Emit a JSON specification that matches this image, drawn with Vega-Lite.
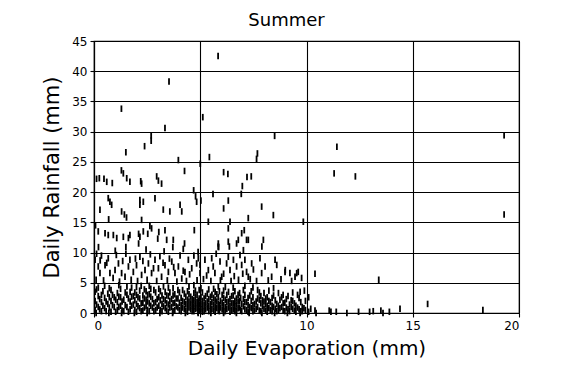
{
  "$schema": "https://vega.github.io/schema/vega-lite/v6.json",
  "width": 425,
  "height": 272,
  "autosize": {"type": "none"},
  "padding": {"left": 94, "top": 41, "right": 55, "bottom": 68},
  "background": "white",
  "title": {"text": "Summer", "anchor": "middle", "frame": "group", "dx": -20, "offset": 5, "fontSize": 18, "fontWeight": "normal", "font": "DejaVu Sans", "color": "black"},
  "config": {
    "font": "DejaVu Sans",
    "view": {"stroke": "black", "strokeWidth": 1.2},
    "axis": {
      "domainColor": "black", "domainWidth": 1.2,
      "grid": true, "gridColor": "black", "gridOpacity": 1, "gridWidth": 1.1,
      "tickColor": "black", "tickSize": 4, "tickWidth": 1.1,
      "labelColor": "black", "labelFontSize": 12, "labelPadding": 3,
      "titleColor": "black", "titleFontWeight": "normal"
    }
  },
  "data": {"values": [
    {"evap":5.84,"rain":42.5},{"evap":3.53,"rain":38.3},{"evap":1.29,"rain":33.8},{"evap":5.12,"rain":32.4},{"evap":3.34,"rain":30.6},
    {"evap":2.69,"rain":29.4},{"evap":2.69,"rain":28.5},{"evap":2.38,"rain":27.6},{"evap":1.5,"rain":26.6},{"evap":8.5,"rain":29.3},
    {"evap":19.3,"rain":29.4},{"evap":11.43,"rain":27.5},{"evap":3.97,"rain":25.3},{"evap":5.43,"rain":25.8},{"evap":5.0,"rain":24.7},
    {"evap":7.69,"rain":26.4},{"evap":7.65,"rain":25.5},{"evap":4.26,"rain":23.5},{"evap":1.29,"rain":23.6},{"evap":6.1,"rain":23.3},
    {"evap":6.3,"rain":23.0},{"evap":7.2,"rain":22.5},{"evap":7.4,"rain":22.6},{"evap":11.3,"rain":23.1},{"evap":12.3,"rain":22.6},
    {"evap":0.12,"rain":22.2},{"evap":0.25,"rain":22.3},{"evap":0.47,"rain":22.2},{"evap":0.6,"rain":21.7},{"evap":0.86,"rain":21.5},
    {"evap":1.38,"rain":23.1},{"evap":1.54,"rain":22.3},{"evap":1.69,"rain":21.7},{"evap":2.2,"rain":21.8},{"evap":2.24,"rain":21.4},
    {"evap":2.95,"rain":22.6},{"evap":3.03,"rain":21.9},{"evap":3.18,"rain":21.4},{"evap":4.69,"rain":20.3},{"evap":4.78,"rain":19.3},
    {"evap":5.03,"rain":18.6},{"evap":5.6,"rain":19.7},{"evap":6.98,"rain":21.0},{"evap":6.93,"rain":19.7},
    {"evap":0.28,"rain":17.1},{"evap":0.67,"rain":19.0},{"evap":0.75,"rain":18.4},{"evap":0.83,"rain":17.9},{"evap":1.3,"rain":16.8},
    {"evap":1.43,"rain":16.3},{"evap":1.53,"rain":15.8},{"evap":2.16,"rain":18.7},{"evap":2.16,"rain":17.9},{"evap":2.32,"rain":18.4},
    {"evap":2.87,"rain":19.0},{"evap":3.26,"rain":17.1},{"evap":3.57,"rain":16.8},{"evap":4.05,"rain":17.9},{"evap":4.13,"rain":16.8},
    {"evap":4.83,"rain":18.4},{"evap":6.1,"rain":17.3},{"evap":6.32,"rain":18.6},{"evap":7.89,"rain":17.6},{"evap":8.44,"rain":16.2},
    {"evap":7.26,"rain":15.7},{"evap":5.38,"rain":15.1},{"evap":6.4,"rain":15.1},{"evap":9.85,"rain":15.1},{"evap":19.3,"rain":16.3},
    {"evap":0.69,"rain":15.5},{"evap":2.24,"rain":15.4},{"evap":0.07,"rain":14.5},
    {"evap":0.2,"rain":13.5},{"evap":0.52,"rain":13.2},{"evap":0.67,"rain":12.9},{"evap":0.91,"rain":12.9},{"evap":1.07,"rain":12.4},
    {"evap":1.38,"rain":12.6},{"evap":1.5,"rain":10.9},{"evap":1.62,"rain":12.4},{"evap":1.69,"rain":12.9},{"evap":2.1,"rain":13.1},
    {"evap":2.1,"rain":11.5},{"evap":2.16,"rain":12.6},{"evap":2.32,"rain":13.5},{"evap":2.63,"rain":14.4},{"evap":2.71,"rain":14.0},
    {"evap":2.53,"rain":13.1},{"evap":3.05,"rain":13.4},{"evap":3.0,"rain":12.3},{"evap":3.34,"rain":13.7},{"evap":3.42,"rain":12.1},
    {"evap":3.73,"rain":12.1},{"evap":3.71,"rain":10.9},{"evap":4.26,"rain":11.5},{"evap":4.72,"rain":13.7},{"evap":6.32,"rain":14.0},
    {"evap":6.95,"rain":13.2},{"evap":6.79,"rain":12.1},{"evap":7.18,"rain":12.1},{"evap":7.97,"rain":12.1},{"evap":5.85,"rain":11.5},
    {"evap":6.32,"rain":11.8},{"evap":7.07,"rain":13.7},{"evap":7.9,"rain":11.0},{"evap":5.86,"rain":10.9},{"evap":0.21,"rain":10.9},
    {"evap":0.12,"rain":9.8},{"evap":0.29,"rain":8.7},{"evap":6.37,"rain":11.0},{"evap":6.71,"rain":11.5},{"evap":7.26,"rain":12.1},
    {"evap":1.0,"rain":10.3},{"evap":2.45,"rain":10.5},{"evap":3.3,"rain":10.2},{"evap":4.2,"rain":10.6},{"evap":4.9,"rain":10.1},
    {"evap":0.05,"rain":8.8},{"evap":0.2,"rain":7.7},{"evap":0.28,"rain":6.6},{"evap":0.52,"rain":7.9},{"evap":0.67,"rain":9.05},
    {"evap":0.75,"rain":6.6},{"evap":0.99,"rain":7.1},{"evap":1.15,"rain":8.2},{"evap":1.3,"rain":6.6},{"evap":1.46,"rain":6.0},
    {"evap":1.62,"rain":7.7},{"evap":1.69,"rain":8.8},{"evap":1.85,"rain":6.8},{"evap":2.0,"rain":7.9},{"evap":2.16,"rain":9.3},
    {"evap":2.24,"rain":6.3},{"evap":2.4,"rain":7.1},{"evap":2.56,"rain":8.2},{"evap":2.71,"rain":6.6},{"evap":2.87,"rain":8.8},
    {"evap":3.03,"rain":7.4},{"evap":3.18,"rain":6.0},{"evap":3.34,"rain":7.9},{"evap":3.5,"rain":6.8},{"evap":3.66,"rain":8.5},
    {"evap":3.81,"rain":6.6},{"evap":3.97,"rain":7.7},{"evap":4.13,"rain":5.7},{"evap":4.28,"rain":6.8},{"evap":4.44,"rain":8.8},
    {"evap":4.6,"rain":7.4},{"evap":4.83,"rain":8.2},{"evap":4.99,"rain":6.6},
    {"evap":4.91,"rain":9.05},{"evap":4.99,"rain":7.95},{"evap":5.22,"rain":8.8},{"evap":5.38,"rain":7.1},{"evap":5.54,"rain":9.05},
    {"evap":5.61,"rain":7.7},{"evap":5.69,"rain":6.6},{"evap":5.93,"rain":8.5},{"evap":6.01,"rain":6.0},{"evap":6.24,"rain":8.2},
    {"evap":6.32,"rain":9.3},{"evap":6.4,"rain":7.1},{"evap":6.56,"rain":8.8},{"evap":6.71,"rain":7.7},{"evap":6.87,"rain":9.6},
    {"evap":6.95,"rain":7.95},{"evap":7.03,"rain":10.4},{"evap":7.1,"rain":8.8},{"evap":7.18,"rain":6.8},{"evap":7.26,"rain":6.0},
    {"evap":7.42,"rain":8.2},{"evap":7.81,"rain":9.05},{"evap":7.89,"rain":6.6},{"evap":8.05,"rain":7.7},{"evap":8.36,"rain":6.0},
    {"evap":8.52,"rain":8.8},{"evap":8.6,"rain":7.95},{"evap":8.99,"rain":6.8},{"evap":9.22,"rain":6.6},{"evap":9.46,"rain":6.0},
    {"evap":9.61,"rain":6.8},{"evap":9.77,"rain":5.8},{"evap":9.0,"rain":7.1},{"evap":9.54,"rain":6.6},{"evap":5.85,"rain":11.0},
    {"evap":0.1,"rain":5.5},{"evap":0.35,"rain":9.5},{"evap":0.45,"rain":5.4},{"evap":0.6,"rain":8.3},{"evap":0.9,"rain":5.8},
    {"evap":1.05,"rain":9.6},{"evap":1.2,"rain":5.2},{"evap":1.35,"rain":8.6},{"evap":1.5,"rain":9.8},{"evap":1.75,"rain":5.5},
    {"evap":1.95,"rain":9.0},{"evap":2.05,"rain":5.3},{"evap":2.3,"rain":8.6},{"evap":2.5,"rain":5.5},{"evap":2.65,"rain":9.7},
    {"evap":2.8,"rain":7.4},{"evap":2.95,"rain":5.3},{"evap":3.1,"rain":9.4},{"evap":3.25,"rain":8.3},{"evap":3.45,"rain":5.4},
    {"evap":3.55,"rain":9.0},{"evap":3.75,"rain":7.6},{"evap":3.9,"rain":5.2},{"evap":4.05,"rain":9.5},{"evap":4.2,"rain":7.0},
    {"evap":4.35,"rain":5.3},{"evap":4.5,"rain":6.4},{"evap":4.7,"rain":9.5},{"evap":4.85,"rain":5.4},{"evap":5.15,"rain":5.6},
    {"evap":5.3,"rain":6.2},{"evap":5.5,"rain":5.3},{"evap":5.75,"rain":9.8},{"evap":5.95,"rain":5.4},{"evap":6.1,"rain":6.5},
    {"evap":6.45,"rain":5.3},{"evap":6.6,"rain":6.1},{"evap":6.8,"rain":5.5},{"evap":7.0,"rain":6.5},{"evap":7.35,"rain":5.6},
    {"evap":7.5,"rain":7.2},{"evap":7.65,"rain":5.3},{"evap":8.2,"rain":5.4},{"evap":8.8,"rain":5.6},{"evap":9.3,"rain":5.3},
    {"evap":10.1,"rain":0.2},{"evap":10.2,"rain":0.7},{"evap":10.4,"rain":0.4},{"evap":10.45,"rain":0.0},{"evap":11.07,"rain":0.4},
    {"evap":11.15,"rain":0.2},{"evap":11.4,"rain":0.2},{"evap":11.9,"rain":0.0},{"evap":12.45,"rain":0.2},{"evap":12.97,"rain":0.2},
    {"evap":13.14,"rain":0.3},{"evap":13.5,"rain":0.4},{"evap":13.6,"rain":0.0},{"evap":13.9,"rain":0.2},{"evap":14.4,"rain":0.7},
    {"evap":10.1,"rain":2.6},{"evap":10.4,"rain":6.5},{"evap":13.4,"rain":5.5},{"evap":15.7,"rain":1.5},{"evap":18.3,"rain":0.5},
    {"evap":9.9,"rain":3.7},{"evap":9.7,"rain":3.5},
    {"evap":0.05,"rain":0.5},{"evap":0.05,"rain":2.0},{"evap":0.05,"rain":3.5},{"evap":0.2,"rain":1.0},{"evap":0.2,"rain":2.8},{"evap":0.2,"rain":4.2},
    {"evap":0.35,"rain":0.3},{"evap":0.35,"rain":1.8},{"evap":0.35,"rain":3.0},{"evap":0.5,"rain":0.8},{"evap":0.5,"rain":2.5},{"evap":0.5,"rain":4.5},
    {"evap":0.65,"rain":1.5},{"evap":0.65,"rain":3.2},{"evap":0.8,"rain":0.2},{"evap":0.8,"rain":2.0},{"evap":0.8,"rain":3.8},{"evap":0.95,"rain":1.0},{"evap":0.95,"rain":2.6},
    {"evap":1.1,"rain":0.5},{"evap":1.1,"rain":1.8},{"evap":1.1,"rain":3.3},{"evap":1.25,"rain":1.2},{"evap":1.25,"rain":2.6},{"evap":1.25,"rain":4.0},
    {"evap":1.4,"rain":0.3},{"evap":1.4,"rain":2.2},{"evap":1.55,"rain":1.0},{"evap":1.55,"rain":3.0},{"evap":1.55,"rain":4.4},
    {"evap":1.7,"rain":0.6},{"evap":1.7,"rain":1.9},{"evap":1.7,"rain":3.5},{"evap":1.85,"rain":1.4},{"evap":1.85,"rain":2.8},
    {"evap":2.0,"rain":0.2},{"evap":2.0,"rain":1.5},{"evap":2.0,"rain":3.0},{"evap":2.0,"rain":4.3},{"evap":2.15,"rain":0.8},{"evap":2.15,"rain":2.4},{"evap":2.15,"rain":3.7},
    {"evap":2.3,"rain":0.4},{"evap":2.3,"rain":1.7},{"evap":2.3,"rain":2.9},{"evap":2.45,"rain":1.1},{"evap":2.45,"rain":2.2},{"evap":2.45,"rain":3.6},
    {"evap":2.6,"rain":0.3},{"evap":2.6,"rain":1.6},{"evap":2.6,"rain":3.1},{"evap":2.6,"rain":4.5},{"evap":2.75,"rain":0.9},{"evap":2.75,"rain":2.3},
    {"evap":2.9,"rain":0.5},{"evap":2.9,"rain":1.8},{"evap":2.9,"rain":3.4},
    {"evap":3.05,"rain":1.2},{"evap":3.05,"rain":2.6},{"evap":3.05,"rain":4.0},{"evap":3.2,"rain":0.3},{"evap":3.2,"rain":1.5},{"evap":3.2,"rain":2.9},
    {"evap":3.35,"rain":0.8},{"evap":3.35,"rain":2.1},{"evap":3.35,"rain":3.5},{"evap":3.5,"rain":0.2},{"evap":3.5,"rain":1.4},{"evap":3.5,"rain":2.8},{"evap":3.5,"rain":4.2},
    {"evap":3.65,"rain":1.0},{"evap":3.65,"rain":2.3},{"evap":3.8,"rain":0.5},{"evap":3.8,"rain":1.7},{"evap":3.8,"rain":3.1},{"evap":3.95,"rain":0.9},{"evap":3.95,"rain":2.4},{"evap":3.95,"rain":3.8},
    {"evap":4.1,"rain":0.3},{"evap":4.1,"rain":1.3},{"evap":4.1,"rain":2.5},{"evap":4.25,"rain":0.7},{"evap":4.25,"rain":1.8},{"evap":4.25,"rain":3.2},
    {"evap":4.4,"rain":0.2},{"evap":4.4,"rain":1.2},{"evap":4.4,"rain":2.2},{"evap":4.4,"rain":3.6},{"evap":4.55,"rain":0.6},{"evap":4.55,"rain":1.6},{"evap":4.55,"rain":2.7},
    {"evap":4.7,"rain":0.3},{"evap":4.7,"rain":1.1},{"evap":4.7,"rain":2.1},{"evap":4.7,"rain":3.3},{"evap":4.7,"rain":4.6},{"evap":4.85,"rain":0.8},{"evap":4.85,"rain":1.8},{"evap":4.85,"rain":3.0},
    {"evap":4.95,"rain":0.4},{"evap":4.95,"rain":1.4},{"evap":4.95,"rain":2.4},{"evap":4.95,"rain":3.8},
    {"evap":5.1,"rain":0.2},{"evap":5.1,"rain":1.0},{"evap":5.1,"rain":2.0},{"evap":5.1,"rain":3.4},{"evap":5.25,"rain":0.6},{"evap":5.25,"rain":1.6},{"evap":5.25,"rain":2.8},
    {"evap":5.4,"rain":0.3},{"evap":5.4,"rain":1.2},{"evap":5.4,"rain":2.3},{"evap":5.4,"rain":3.9},{"evap":5.55,"rain":0.7},{"evap":5.55,"rain":1.8},{"evap":5.55,"rain":3.0},
    {"evap":5.7,"rain":0.2},{"evap":5.7,"rain":1.1},{"evap":5.7,"rain":2.2},{"evap":5.7,"rain":3.5},{"evap":5.85,"rain":0.5},{"evap":5.85,"rain":1.5},{"evap":5.85,"rain":2.6},{"evap":5.85,"rain":4.4},
    {"evap":5.95,"rain":0.9},{"evap":5.95,"rain":2.0},
    {"evap":6.1,"rain":0.3},{"evap":6.1,"rain":1.3},{"evap":6.1,"rain":2.5},{"evap":6.1,"rain":3.7},{"evap":6.25,"rain":0.7},{"evap":6.25,"rain":1.8},{"evap":6.25,"rain":3.0},
    {"evap":6.4,"rain":0.2},{"evap":6.4,"rain":1.2},{"evap":6.4,"rain":2.3},{"evap":6.55,"rain":0.6},{"evap":6.55,"rain":1.6},{"evap":6.55,"rain":2.9},{"evap":6.55,"rain":4.2},
    {"evap":6.7,"rain":0.4},{"evap":6.7,"rain":1.4},{"evap":6.7,"rain":2.4},{"evap":6.85,"rain":0.9},{"evap":6.85,"rain":2.0},{"evap":6.85,"rain":3.3},{"evap":6.95,"rain":0.3},{"evap":6.95,"rain":1.5},
    {"evap":7.1,"rain":0.6},{"evap":7.1,"rain":1.8},{"evap":7.1,"rain":3.0},{"evap":7.1,"rain":4.5},{"evap":7.25,"rain":0.2},{"evap":7.25,"rain":1.3},{"evap":7.25,"rain":2.5},
    {"evap":7.4,"rain":0.8},{"evap":7.4,"rain":2.0},{"evap":7.4,"rain":3.6},{"evap":7.55,"rain":0.4},{"evap":7.55,"rain":1.5},{"evap":7.7,"rain":1.0},{"evap":7.7,"rain":2.4},{"evap":7.7,"rain":3.8},
    {"evap":7.85,"rain":0.3},{"evap":7.85,"rain":1.6},{"evap":7.85,"rain":2.8},
    {"evap":8.0,"rain":0.7},{"evap":8.0,"rain":1.9},{"evap":8.0,"rain":3.3},{"evap":8.15,"rain":0.2},{"evap":8.15,"rain":1.2},{"evap":8.15,"rain":2.6},
    {"evap":8.3,"rain":0.5},{"evap":8.3,"rain":1.8},{"evap":8.45,"rain":1.0},{"evap":8.45,"rain":2.9},{"evap":8.45,"rain":4.1},{"evap":8.6,"rain":0.3},{"evap":8.6,"rain":1.5},
    {"evap":8.75,"rain":0.8},{"evap":8.75,"rain":2.2},{"evap":8.9,"rain":0.4},{"evap":8.9,"rain":1.6},{"evap":8.9,"rain":3.0},
    {"evap":9.05,"rain":0.9},{"evap":9.05,"rain":2.3},{"evap":9.2,"rain":0.3},{"evap":9.2,"rain":1.4},{"evap":9.35,"rain":0.7},{"evap":9.35,"rain":2.0},{"evap":9.35,"rain":3.4},
    {"evap":9.5,"rain":0.2},{"evap":9.5,"rain":1.2},{"evap":9.65,"rain":0.6},{"evap":9.65,"rain":2.5},{"evap":9.8,"rain":0.3},{"evap":9.8,"rain":1.0},{"evap":9.95,"rain":0.5},{"evap":9.95,"rain":2.0},
    {"evap":0.12,"rain":1.4},{"evap":0.12,"rain":3.9},{"evap":0.27,"rain":0.6},{"evap":0.27,"rain":2.3},{"evap":0.42,"rain":1.2},{"evap":0.42,"rain":3.6},
    {"evap":0.57,"rain":0.3},{"evap":0.57,"rain":1.9},{"evap":0.72,"rain":0.9},{"evap":0.72,"rain":2.6},{"evap":0.72,"rain":4.1},{"evap":0.87,"rain":1.3},{"evap":0.87,"rain":3.0},
    {"evap":1.02,"rain":0.2},{"evap":1.02,"rain":2.2},{"evap":1.17,"rain":1.0},{"evap":1.17,"rain":2.7},{"evap":1.17,"rain":4.6},{"evap":1.32,"rain":0.4},{"evap":1.32,"rain":1.9},
    {"evap":1.47,"rain":1.3},{"evap":1.47,"rain":3.4},{"evap":1.62,"rain":0.2},{"evap":1.62,"rain":2.4},{"evap":1.77,"rain":1.2},{"evap":1.77,"rain":2.7},{"evap":1.77,"rain":4.2},
    {"evap":1.92,"rain":0.5},{"evap":1.92,"rain":2.1},{"evap":1.92,"rain":3.4},{"evap":2.07,"rain":1.1},{"evap":2.07,"rain":2.6},{"evap":2.22,"rain":0.3},{"evap":2.22,"rain":1.6},{"evap":2.22,"rain":4.5},
    {"evap":2.37,"rain":0.9},{"evap":2.37,"rain":2.4},{"evap":2.37,"rain":3.9},{"evap":2.52,"rain":0.5},{"evap":2.52,"rain":1.9},{"evap":2.52,"rain":3.0},
    {"evap":2.67,"rain":1.2},{"evap":2.67,"rain":2.7},{"evap":2.67,"rain":4.0},{"evap":2.82,"rain":0.3},{"evap":2.82,"rain":1.6},{"evap":2.82,"rain":3.8},{"evap":2.97,"rain":0.9},{"evap":2.97,"rain":2.3},
    {"evap":3.12,"rain":0.5},{"evap":3.12,"rain":2.1},{"evap":3.12,"rain":3.6},{"evap":3.27,"rain":1.1},{"evap":3.27,"rain":2.3},{"evap":3.27,"rain":4.4},
    {"evap":3.42,"rain":0.4},{"evap":3.42,"rain":1.6},{"evap":3.42,"rain":2.9},{"evap":3.57,"rain":0.9},{"evap":3.57,"rain":2.0},{"evap":3.57,"rain":3.4},
    {"evap":3.72,"rain":0.3},{"evap":3.72,"rain":1.6},{"evap":3.72,"rain":2.9},{"evap":3.72,"rain":4.1},{"evap":3.87,"rain":1.1},{"evap":3.87,"rain":2.4},
    {"evap":4.02,"rain":0.5},{"evap":4.02,"rain":1.7},{"evap":4.02,"rain":3.4},{"evap":4.17,"rain":0.9},{"evap":4.17,"rain":2.0},{"evap":4.17,"rain":3.8},
    {"evap":4.32,"rain":0.4},{"evap":4.32,"rain":1.5},{"evap":4.32,"rain":2.7},{"evap":4.47,"rain":0.9},{"evap":4.47,"rain":1.9},{"evap":4.47,"rain":3.1},{"evap":4.47,"rain":4.4},
    {"evap":4.62,"rain":0.3},{"evap":4.62,"rain":1.3},{"evap":4.62,"rain":2.3},{"evap":4.77,"rain":0.7},{"evap":4.77,"rain":1.6},{"evap":4.77,"rain":2.6},{"evap":4.77,"rain":3.7},
    {"evap":4.9,"rain":0.2},{"evap":4.9,"rain":1.1},{"evap":4.9,"rain":2.0},{"evap":5.03,"rain":0.6},{"evap":5.03,"rain":1.5},{"evap":5.03,"rain":2.6},{"evap":5.03,"rain":4.1},
    {"evap":5.18,"rain":0.3},{"evap":5.18,"rain":1.3},{"evap":5.18,"rain":2.4},{"evap":5.33,"rain":0.9},{"evap":5.33,"rain":1.9},{"evap":5.33,"rain":3.2},
    {"evap":5.48,"rain":0.5},{"evap":5.48,"rain":1.5},{"evap":5.48,"rain":2.7},{"evap":5.63,"rain":0.4},{"evap":5.63,"rain":1.4},{"evap":5.63,"rain":2.5},{"evap":5.63,"rain":4.0},
    {"evap":5.78,"rain":0.8},{"evap":5.78,"rain":1.9},{"evap":5.78,"rain":3.1},{"evap":5.9,"rain":0.3},{"evap":5.9,"rain":1.3},{"evap":5.9,"rain":3.6},
    {"evap":6.03,"rain":0.6},{"evap":6.03,"rain":1.7},{"evap":6.03,"rain":3.0},{"evap":6.18,"rain":0.3},{"evap":6.18,"rain":1.0},{"evap":6.18,"rain":2.2},{"evap":6.18,"rain":4.3},
    {"evap":6.33,"rain":0.9},{"evap":6.33,"rain":1.9},{"evap":6.33,"rain":3.5},{"evap":6.48,"rain":0.5},{"evap":6.48,"rain":1.6},{"evap":6.48,"rain":2.8},
    {"evap":6.63,"rain":0.3},{"evap":6.63,"rain":1.1},{"evap":6.63,"rain":2.0},{"evap":6.63,"rain":3.6},{"evap":6.78,"rain":0.8},{"evap":6.78,"rain":1.9},{"evap":6.78,"rain":3.0},
    {"evap":6.9,"rain":0.5},{"evap":6.9,"rain":2.5},{"evap":7.03,"rain":1.1},{"evap":7.03,"rain":2.3},{"evap":7.03,"rain":3.8},{"evap":7.18,"rain":0.5},{"evap":7.18,"rain":1.8},
    {"evap":7.33,"rain":1.0},{"evap":7.33,"rain":2.9},{"evap":7.48,"rain":0.3},{"evap":7.48,"rain":1.3},{"evap":7.48,"rain":2.6},{"evap":7.48,"rain":4.2},
    {"evap":7.63,"rain":0.7},{"evap":7.63,"rain":1.9},{"evap":7.78,"rain":0.4},{"evap":7.78,"rain":2.2},{"evap":7.78,"rain":3.4},{"evap":7.93,"rain":1.1},{"evap":7.93,"rain":2.1},
    {"evap":8.08,"rain":0.4},{"evap":8.08,"rain":1.5},{"evap":8.08,"rain":2.4},{"evap":8.23,"rain":0.8},{"evap":8.23,"rain":2.0},{"evap":8.23,"rain":3.7},
    {"evap":8.38,"rain":0.3},{"evap":8.38,"rain":1.2},{"evap":8.38,"rain":2.5},{"evap":8.53,"rain":0.7},{"evap":8.53,"rain":2.1},
    {"evap":8.68,"rain":0.4},{"evap":8.68,"rain":1.2},{"evap":8.68,"rain":3.3},{"evap":8.83,"rain":1.0},{"evap":8.83,"rain":2.6},{"evap":8.98,"rain":0.3},{"evap":8.98,"rain":1.7},
    {"evap":9.13,"rain":0.6},{"evap":9.13,"rain":2.8},{"evap":9.28,"rain":1.0},{"evap":9.28,"rain":2.1},{"evap":9.43,"rain":0.4},{"evap":9.43,"rain":1.6},
    {"evap":9.58,"rain":0.9},{"evap":9.58,"rain":3.0},{"evap":9.73,"rain":0.3},{"evap":9.73,"rain":1.8},{"evap":9.88,"rain":0.8},
    {"evap":0.1,"rain":0},{"evap":0.7,"rain":0},{"evap":1.3,"rain":0},{"evap":1.9,"rain":0},{"evap":2.5,"rain":0},{"evap":3.1,"rain":0},
    {"evap":3.7,"rain":0},{"evap":4.3,"rain":0},{"evap":4.9,"rain":0},{"evap":5.5,"rain":0},{"evap":6.1,"rain":0},{"evap":6.7,"rain":0},
    {"evap":7.3,"rain":0},{"evap":7.9,"rain":0},{"evap":8.5,"rain":0},{"evap":9.1,"rain":0},{"evap":9.7,"rain":0}
  ]},
  "mark": {"type": "tick", "orient": "vertical", "color": "black", "size": 6.5, "thickness": 1.8, "opacity": 1},
  "encoding": {
    "x": {"field": "evap", "type": "quantitative", "scale": {"domain": [0, 20], "nice": false}, "axis": {"title": "Daily Evaporation (mm)", "values": [0, 5, 10, 15, 20], "titlePadding": 7, "titleFontSize": 20}},
    "y": {"field": "rain", "type": "quantitative", "scale": {"domain": [0, 45], "nice": false}, "axis": {"title": "Daily Rainfall (mm)", "values": [0, 5, 10, 15, 20, 25, 30, 35, 40, 45], "titlePadding": 9, "titleFontSize": 21}}
  }
}
